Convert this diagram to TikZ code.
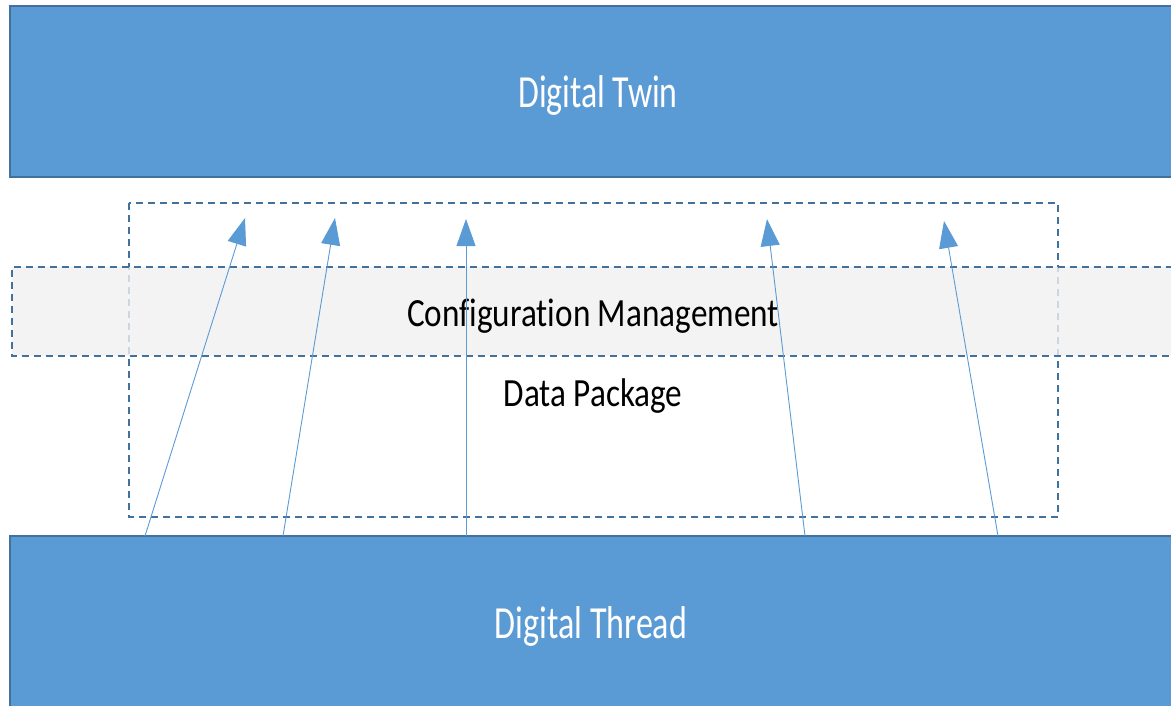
\documentclass[tikz,border=0pt]{standalone}
\usepackage{fontspec}
\setmainfont{Carlito}[Ligatures=NoCommon]
\usetikzlibrary{arrows.meta}
\definecolor{boxblue}{RGB}{91,155,213}
\definecolor{edgeblue}{RGB}{65,113,156}
\definecolor{bandgray}{RGB}{240,240,240}
\tikzset{
  bluebox/.style={fill=boxblue,draw=edgeblue,line width=2pt},
  dashbox/.style={draw=edgeblue,line width=2pt,dash pattern=on 7pt off 5pt},
  upflow/.style={draw=boxblue,line width=0.9pt,-{Triangle[length=27pt,width=19pt]}},
  bigtext/.style={text=white,inner sep=0pt,anchor=base},
  midtext/.style={text=black,inner sep=0pt,anchor=base}
}
\begin{document}
\begin{tikzpicture}[x=1pt,y=-1pt]
\useasboundingbox (0,0) rectangle (1171,706);
% blue layers
\draw[bluebox] (10,6) rectangle (1185,177);
\draw[bluebox] (10,536) rectangle (1185,720);
\coordinate (tw) at (598,108);
\coordinate (th) at (591,638);
\node[bigtext] (twin) at (tw) {\scalebox{0.735}[1]{\fontsize{46}{46}\selectfont Digital Twin}};
\node[bigtext] (thread) at (th) {\scalebox{0.74}[1]{\fontsize{46}{46}\selectfont Digital Thread}};
% data package box
\draw[dashbox] (129,203) rectangle (1058,517);
% configuration band
\fill[bandgray,opacity=0.8] (12,267) rectangle (1185,356);
\draw[dashbox] (1185,267) -- (12,267) -- (12,356) -- (1185,356);
\node[midtext] (cm) at (593,326) {\scalebox{0.83}[1]{\fontsize{40}{40}\selectfont Configuration Management}};
\node[midtext] (dp) at (593,406) {\scalebox{0.83}[1]{\fontsize{40}{40}\selectfont Data Package}};
% arrows
\coordinate (s1) at (145,536); \coordinate (e1) at (245,218);
\coordinate (s2) at (283,536); \coordinate (e2) at (335,218);
\coordinate (s3) at (466,536); \coordinate (e3) at (466,219);
\coordinate (s4) at (805,536); \coordinate (e4) at (767,219);
\coordinate (s5) at (998,536); \coordinate (e5) at (944,221);
\foreach \i in {1,...,5} {\draw[upflow] (s\i) -- (e\i);}
\end{tikzpicture}
\end{document}
